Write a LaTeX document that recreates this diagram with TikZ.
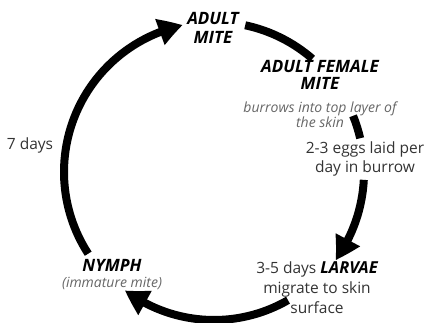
\documentclass[tikz,border=0pt]{standalone}
\usepackage{fontspec}
\setmainfont{Open Sans}
\usetikzlibrary{arrows.meta, bending, positioning, calc}
\tikzset{
  cyclearc/.style={line width=8pt},
  cyclearrow/.style={cyclearc, -{Triangle[length=24pt,width=26pt,bend]}},
  stage/.style={font=\fontsize{17}{17}\selectfont\bfseries\itshape, align=center, inner sep=0pt},
  note/.style={font=\fontsize{14}{15}\selectfont\itshape, text=black!60, align=center, inner sep=0pt},
  info/.style={font=\fontsize{15.5}{18.5}\selectfont, text=black!80, align=center, inner sep=0pt},
}

\begin{document}
\begin{tikzpicture}[x=1pt,y=1pt]
  \useasboundingbox (0,0) rectangle (428,323);
  \coordinate (ctr) at (214,151);

  % stages and notes
  \node[stage, font=\fontsize{17}{18.5}\selectfont\bfseries\itshape]
               (adult)  at (213,295) {ADULT\\MITE};
  \node[stage] (female) at (320,248) {ADULT FEMALE\\MITE};
  \node[note]  (burrow) at (320,208) {burrows into top layer of\\the skin};
  \node[info]  (eggs)   at (365,164) {2-3 eggs laid per\\day in burrow};
  \node[info, font=\fontsize{15.5}{20}\selectfont]
               (larvae) at (317,35)  {3-5 days {\color{black}\fontsize{16.5}{20}\selectfont\bfseries\itshape LARVAE}\\migrate to skin\\surface};
  \node[stage] (nymph)  at (112,58)  {NYMPH};
  \node[note]  (immat)  at (112,40)  {(immature mite)};
  \node[info]  (seven)  at (30,178)  {7 days};

  % points on the cycle
  \coordinate (nymphout)  at ($(ctr)+(213:150)$);
  \coordinate (adultout)  at ($(ctr)+(78:150)$);
  \coordinate (skinin)    at ($(ctr)+(22:150)$);
  \coordinate (eggsout)   at ($(ctr)+(-3:150)$);
  \coordinate (larvaeout) at ($(ctr)+(-60:148)$);

  \draw[cyclearrow] (nymphout) arc[start angle=213, end angle=102, radius=150];
  \draw[cyclearc] (adultout) arc[start angle=78, end angle=49, radius=150];
  \draw[cyclearc] (skinin) arc[start angle=22, end angle=13, radius=150];
  \draw[cyclearrow] (eggsout) arc[start angle=-3, end angle=-36, radius=150];
  \draw[cyclearrow] (larvaeout) arc[start angle=-60, end angle=-127, radius=148];
\end{tikzpicture}
\end{document}
